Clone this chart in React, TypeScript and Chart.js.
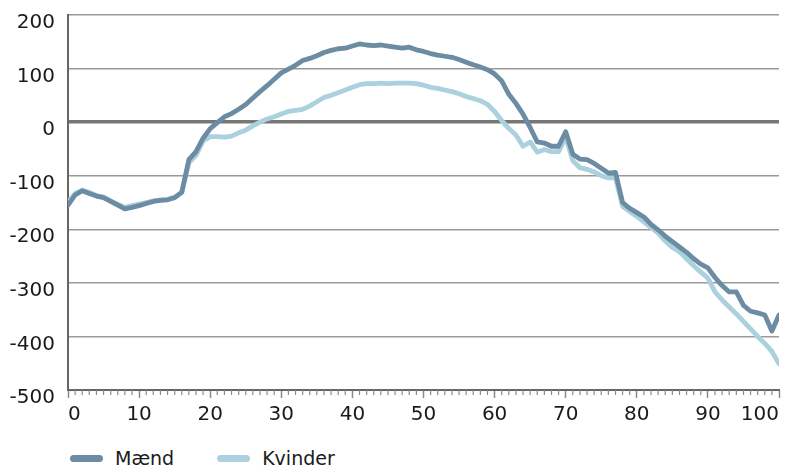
import React, { useEffect, useRef } from "react";
import { Chart, registerables } from "chart.js";

Chart.register(...registerables);

const ages: number[] = Array.from({ length: 101 }, (_, i) => i);

const maend: number[] = [
  -155, -136, -128, -133, -138, -141, -148, -155, -162, -159,
  -156, -152, -148, -146, -145, -141, -131, -70, -55, -30,
  -12, -1, 10, 16, 24, 33, 45, 57, 68, 80,
  92, 99, 106, 115, 119, 124, 130, 134, 137, 138,
  142, 146, 144, 143, 144, 142, 140, 138, 140, 135,
  132, 128, 125, 123, 121, 117, 112, 107, 103, 98,
  90, 77, 52, 35, 15, -10, -37, -39, -45, -45,
  -18, -60, -69, -70, -77, -86, -95, -94, -150, -161,
  -169, -177, -191, -201, -213, -223, -233, -243, -255, -265,
  -272, -290, -305, -317, -317, -342, -353, -356, -360, -390,
  -360,
];

const kvinder: number[] = [
  -150, -133, -127, -131, -137, -140, -147, -153, -159, -156,
  -153, -150, -147, -145, -144, -140, -131, -76, -62, -35,
  -27, -27, -28, -26, -20, -15, -7, 0, 6, 10,
  15, 20, 22, 24, 30, 38, 46, 50, 55, 60,
  65, 70, 72, 72, 73, 72, 73, 73, 73, 72,
  69, 65, 63, 60, 57, 53, 48, 44, 40, 33,
  20, 3, -12, -24, -45, -37, -56, -51, -55, -55,
  -28, -72, -85, -88, -93, -100, -104, -104, -157, -167,
  -176, -186, -197, -207, -222, -234, -242, -255, -268, -280,
  -291, -317, -332, -345, -358, -372, -386, -400, -413, -428,
  -451,
];

const seriesNames: string[] = ["Mænd", "Kvinder"];
const seriesColors: string[] = ["#6b8ca2", "#aad1dd"];

const FONT = "'DejaVu Sans', sans-serif";

const minorTicks = {
  id: "minorTicks",
  afterDraw(chart: any) {
    const x = chart.scales.x;
    const ctx = chart.ctx;
    const bottom = chart.chartArea.bottom;
    ctx.save();
    ctx.strokeStyle = "#8a8a8a";
    ctx.lineWidth = 1.2;
    for (let i = 0; i <= 100; i++) {
      if (i % 10 === 0) continue;
      const px = x.getPixelForValue(i);
      ctx.beginPath();
      ctx.moveTo(px, bottom);
      ctx.lineTo(px, bottom + 5);
      ctx.stroke();
    }
    ctx.restore();
  },
};

export default function App() {
  const ref = useRef<HTMLCanvasElement | null>(null);

  useEffect(() => {
    if (!ref.current) return;
    const chart = new Chart(ref.current, {
      type: "line",
      data: {
        labels: ages,
        datasets: [
          {
            label: seriesNames[0],
            data: ages.map((a, i) => ({ x: a, y: maend[i] })),
            borderColor: seriesColors[0],
            backgroundColor: seriesColors[0],
            borderWidth: 4.8,
            pointRadius: 0,
            tension: 0,
            borderJoinStyle: "round",
            borderCapStyle: "round",
          },
          {
            label: seriesNames[1],
            data: ages.map((a, i) => ({ x: a, y: kvinder[i] })),
            borderColor: seriesColors[1],
            backgroundColor: seriesColors[1],
            borderWidth: 4.8,
            pointRadius: 0,
            tension: 0,
            borderJoinStyle: "round",
            borderCapStyle: "round",
          },
        ],
      },
      options: {
        animation: false,
        responsive: false,
        maintainAspectRatio: false,
        layout: { padding: { top: 15, right: 6, left: 0, bottom: 0 } },
        plugins: {
          legend: { display: false },
          tooltip: { enabled: false },
        },
        scales: {
          x: {
            type: "linear",
            min: 0,
            max: 100,
            ticks: {
              stepSize: 10,
              align: "inner",
              padding: 5,
              color: "#1a1a1a",
              font: { family: FONT, size: 20 },
              maxRotation: 0,
            },
            grid: {
              drawOnChartArea: false,
              drawTicks: true,
              tickLength: 8,
              tickColor: "#8a8a8a",
              tickWidth: 1.5,
            },
            border: { color: "#666666", width: 2 },
            afterFit: (s: any) => {
              s.height = 40;
              s.paddingLeft = 0;
              s.paddingRight = 0;
            },
          },
          y: {
            min: -500,
            max: 200,
            ticks: {
              stepSize: 100,
              padding: 13,
              labelOffset: 8,
              color: "#1a1a1a",
              font: { family: FONT, size: 20 },
            },
            grid: {
              drawTicks: false,
              color: (c: any) => (c.tick && c.tick.value === 0 ? "#777777" : "#9a9a9a"),
              lineWidth: (c: any) => (c.tick && c.tick.value === 0 ? 3.5 : 1.5),
            },
            border: { color: "#666666", width: 2 },
            afterFit: (s: any) => {
              s.width = 68;
              s.paddingTop = 0;
              s.paddingBottom = 0;
            },
          },
        },
      },
      plugins: [minorTicks],
    });
    return () => chart.destroy();
  }, []);

  return (
    <div style={{ position: "absolute", left: 0, top: 0, width: 785, height: 466, background: "#fff" }}>
      <canvas ref={ref} width={785} height={430} style={{ display: "block", width: 785, height: 430 }} />
      <div
        style={{
          position: "absolute",
          left: 70,
          top: 445,
          display: "flex",
          alignItems: "center",
          fontFamily: FONT,
          fontSize: 19,
          color: "#1a1a1a",
          lineHeight: "26px",
        }}
      >
        {seriesNames.map((n, i) => (
          <div key={n} style={{ display: "flex", alignItems: "center", marginRight: 43 }}>
            <span
              style={{
                display: "inline-block",
                width: 33,
                height: 7,
                borderRadius: 4,
                background: seriesColors[i],
                marginRight: 12,
              }}
            />
            <span>{n}</span>
          </div>
        ))}
      </div>
    </div>
  );
}
